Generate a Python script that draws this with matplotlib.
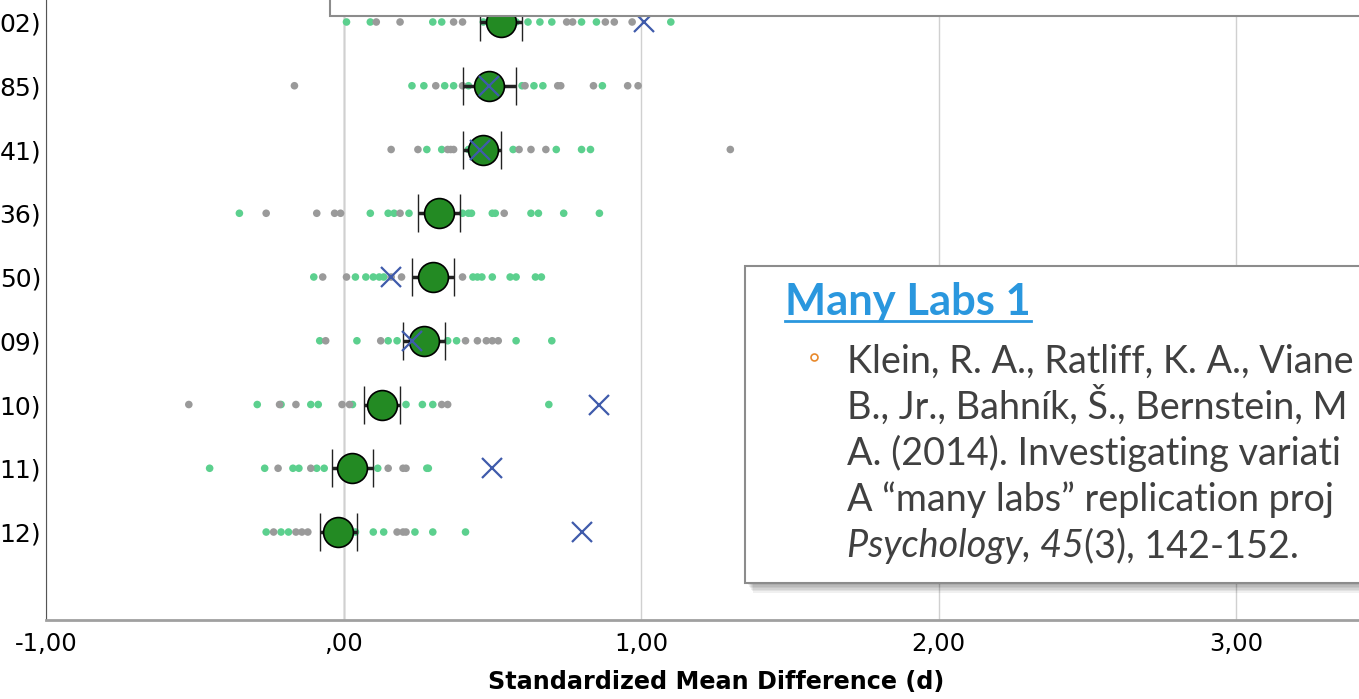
import numpy as np
import matplotlib.pyplot as plt
from matplotlib.patches import Rectangle
from matplotlib.lines import Line2D

# visible right-hand ends of the row labels (the rest is cropped off)
row_labels = ["02)", "85)", "41)", "36)", "50)", "09)", "10)", "11)", "12)"]
mean_d = [0.53, 0.49, 0.47, 0.32, 0.30, 0.27, 0.13, 0.03, -0.02]
ci_low = [0.46, 0.40, 0.40, 0.25, 0.23, 0.20, 0.07, -0.04, -0.08]
ci_high = [0.60, 0.58, 0.53, 0.39, 0.37, 0.34, 0.19, 0.10, 0.045]
original_d = [1.01, 0.49, 0.46, np.nan, 0.16, 0.23, 0.86, 0.50, 0.80]

green_sites = [
    [0.01, 0.09, 0.30, 0.33, 0.47, 0.58, 0.62, 0.66, 0.70, 0.80, 0.85, 1.10],
    [0.23, 0.27, 0.34, 0.37, 0.42, 0.60, 0.64, 0.67, 0.87],
    [0.28, 0.33, 0.42, 0.57, 0.715, 0.80, 0.83],
    [-0.35, 0.09, 0.15, 0.17, 0.22, 0.40, 0.42, 0.43, 0.50, 0.51, 0.63, 0.655, 0.74, 0.86],
    [-0.10, 0.04, 0.075, 0.10, 0.12, 0.135, 0.435, 0.45, 0.465, 0.50, 0.56, 0.58, 0.645, 0.665],
    [-0.08, 0.045, 0.15, 0.18, 0.35, 0.38, 0.58, 0.70],
    [-0.29, -0.21, -0.11, -0.085, 0.03, 0.21, 0.265, 0.30, 0.69],
    [-0.45, -0.265, -0.17, -0.15, -0.09, -0.065, 0.115, 0.28, 0.285],
    [-0.26, -0.21, -0.185, 0.04, 0.10, 0.135, 0.24, 0.30, 0.41],
]
gray_sites = [
    [0.11, 0.19, 0.37, 0.40, 0.75, 0.77, 0.88, 0.91, 0.97],
    [-0.165, 0.31, 0.40, 0.61, 0.72, 0.73, 0.84, 0.955, 0.99],
    [0.16, 0.25, 0.35, 0.36, 0.37, 0.59, 0.63, 0.68, 1.30],
    [-0.26, -0.09, -0.03, -0.01, 0.19, 0.54],
    [-0.07, 0.01, 0.16, 0.195, 0.40],
    [-0.06, 0.125, 0.41, 0.45, 0.48, 0.50, 0.52],
    [-0.52, -0.215, -0.16, -0.005, 0.02, 0.33, 0.35],
    [-0.22, -0.11, 0.15, 0.20, 0.21],
    [-0.235, -0.16, -0.14, -0.12, 0.18, 0.20, 0.21],
]
x_ticks = [-1, 0, 1, 2, 3]
x_ticklabels = ["-1,00", ",00", "1,00", "2,00", "3,00"]

box_title = "Many Labs 1"
ref_lines = ["Klein, R. A., Ratliff, K. A., Viane",
             "B., Jr., Bahník, Š., Bernstein, M",
             "A. (2014). Investigating variati",
             "A “many labs” replication proj"]
ref_last_italic = "Psychology, 45"
ref_last_rest = "(3), 142-152."

W, H = 1359, 699
def fx(px): return px / W
def fy(py): return (H - py) / H

fig = plt.figure(figsize=(W / 100, H / 100), dpi=100)
ax = fig.add_axes([fx(46), fy(620), (W - 46) / W, 620 / H])
ax.set_xlim(-1, 3.413)
ax.set_ylim(-0.38, 9.345)

ypos = np.arange(len(row_labels), 0, -1)

ax.set_xticks(x_ticks)
ax.set_xticklabels(x_ticklabels, fontsize=17.5)
ax.grid(axis='x', color='#d0d0d0', lw=1)
ax.axvline(0, color='#8a8a8a', lw=1, zorder=1)
ax.set_yticks(ypos)
ax.set_yticklabels(row_labels, fontsize=18)
ax.tick_params(axis='x', length=0, pad=9)
ax.tick_params(axis='y', length=0, pad=3.5)
ax.set_xlabel("Standardized Mean Difference (d)", fontsize=17.2, fontweight='bold')
ax.xaxis.set_label_coords(0.51, -0.0806)
for s in ['top', 'right']:
    ax.spines[s].set_visible(False)
ax.spines['left'].set_color('#555555')
ax.spines['bottom'].set_color('#a0a0a0')
ax.spines['bottom'].set_linewidth(2)

for i, y in enumerate(ypos):
    ax.scatter(green_sites[i], [y] * len(green_sites[i]), s=30, color='#5cd08e',
               edgecolors='none', zorder=2)
    ax.scatter(gray_sites[i], [y] * len(gray_sites[i]), s=30, color='#9a9a9a',
               edgecolors='none', zorder=2)
    m = mean_d[i]
    ax.errorbar(m, y, xerr=[[m - ci_low[i]], [ci_high[i] - m]], fmt='none',
                ecolor='#222222', elinewidth=2.5, capsize=14, capthick=1, zorder=3)
ax.plot(mean_d, ypos, 'o', ms=21.5, mfc='#238a23', mec='black', mew=1.2,
        ls='none', zorder=4)
ax.plot(original_d, ypos, 'x', ms=15, mew=1.6, color='#3f5bab', ls='none', zorder=5)

# overlaid slide boxes
fig.add_artist(Rectangle((fx(330), fy(16)), 1.0, 0.1, transform=fig.transFigure,
                         facecolor='white', edgecolor='#8c8c8c', lw=1.5, zorder=5))
for k in range(6):
    fig.add_artist(Rectangle((fx(748 + k), fy(583 + 2 + k * 1.6)), 1.0, (583 - 270) / H,
                             transform=fig.transFigure, facecolor='#000000',
                             edgecolor='none', alpha=0.06, zorder=5))
fig.add_artist(Rectangle((fx(745), fy(583)), 1.0, (583 - 266) / H,
                         transform=fig.transFigure, facecolor='white',
                         edgecolor='#8c8c8c', lw=1.5, zorder=6))

t = fig.text(fx(785), fy(315), box_title, fontsize=31.3, fontweight='bold',
             family=['Lato', 'DejaVu Sans'], color='#2a97de', va='baseline',
             zorder=7)
fig.canvas.draw()
r = fig.canvas.get_renderer()
bb = t.get_window_extent(r)
fig.add_artist(Line2D([fx(bb.x0), fx(bb.x1)], [fy(321), fy(321)], color='#2a97de',
                      lw=2, transform=fig.transFigure, zorder=7))

fig.add_artist(Line2D([fx(814)], [fy(357)], marker='o', ms=5, mfc='none',
                      mec='#e8892b', mew=1.2, transform=fig.transFigure, zorder=7))
baselines = [373, 419, 465, 511, 557]
fs = 27.2
for line, b in zip(ref_lines, baselines):
    fig.text(fx(847), fy(b), line, fontsize=fs, family=['Lato', 'DejaVu Sans'],
             color='#404040', va='baseline', zorder=7)
ti = fig.text(fx(847), fy(baselines[-1]), ref_last_italic, fontsize=fs,
              family=['Lato', 'DejaVu Sans'], style='italic', color='#404040',
              va='baseline', zorder=7)
bb = ti.get_window_extent(r)
fig.text(bb.x1 / W, fy(baselines[-1]), ref_last_rest, fontsize=fs,
         family=['Lato', 'DejaVu Sans'], color='#404040', va='baseline', zorder=7)

fig.savefig('out.png', dpi=100)
